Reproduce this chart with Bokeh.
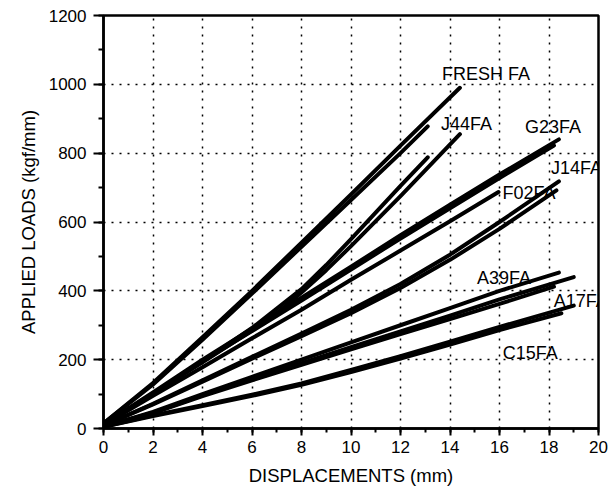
from bokeh.plotting import figure
from bokeh.models import Range1d, SingleIntervalTicker, Label
from bokeh.embed import file_html
from bokeh.resources import INLINE

# ---- data ----
fresh_x = [0, 2, 4, 6, 8, 10, 12, 14.4]
fresh_y = [15, 132, 265, 400, 540, 680, 822, 990]
fresh2_x = [0, 2, 4, 6, 8, 10, 12, 13.1]
fresh2_y = [15, 128, 258, 392, 528, 664, 800, 878]

j44a_x = [0, 1, 2, 4, 6, 7, 8, 9, 10, 12, 14.4]
j44a_y = [10, 55, 102, 192, 285, 335, 395, 460, 530, 675, 855]
j44b_x = [0, 2, 4, 6, 8, 9, 10, 12, 13.1]
j44b_y = [10, 102, 195, 292, 405, 475, 550, 705, 788]

g23a_x = [0, 1, 2, 4, 6, 8, 10, 12, 14, 16, 18.4]
g23a_y = [10, 58, 105, 200, 290, 380, 470, 562, 650, 738, 840]
g23b_x = [0, 2, 4, 6, 8, 10, 12, 14, 16, 18.2]
g23b_y = [10, 102, 195, 283, 372, 462, 552, 640, 728, 822]

f02_x = [0, 2, 4, 6, 8, 10, 12, 14, 15.96]
f02_y = [10, 95, 178, 262, 345, 432, 517, 602, 687]

j14a_x = [0, 2, 4, 6, 8, 10, 12, 14, 16, 18.4]
j14a_y = [8, 72, 140, 208, 276, 345, 420, 505, 600, 718]
j14b_x = [0, 2, 4, 6, 8, 10, 12, 14, 16, 18.3]
j14b_y = [8, 70, 136, 203, 268, 335, 408, 490, 580, 692]

a39_x = [0, 2, 4, 6, 8, 10, 12, 14, 16, 18.4]
a39_y = [5, 48, 100, 150, 200, 250, 300, 350, 400, 453]
a17a_x = [0, 2, 4, 6, 8, 10, 12, 14, 16, 19]
a17a_y = [5, 46, 96, 144, 190, 236, 282, 328, 375, 440]
a17b_x = [0, 2, 4, 6, 8, 10, 12, 14, 16, 18.2]
a17b_y = [5, 45, 94, 140, 185, 230, 274, 318, 362, 412]

c15a_x = [0, 2, 4, 6, 8, 10, 12, 14, 16, 19]
c15a_y = [5, 38, 68, 98, 131, 170, 210, 252, 295, 357]
c15b_x = [0, 2, 4, 6, 8, 10, 12, 14, 16, 18.5]
c15b_y = [5, 36, 65, 95, 127, 164, 203, 244, 286, 335]

series = [
    (fresh_x, fresh_y), (fresh2_x, fresh2_y),
    (j44a_x, j44a_y), (j44b_x, j44b_y),
    (g23a_x, g23a_y), (g23b_x, g23b_y),
    (f02_x, f02_y),
    (j14a_x, j14a_y), (j14b_x, j14b_y),
    (a39_x, a39_y), (a17a_x, a17a_y), (a17b_x, a17b_y),
    (c15a_x, c15a_y), (c15b_x, c15b_y),
]

label_texts = ["FRESH FA", "J44FA", "G23FA", "J14FA", "F02FA", "A39FA", "A17FA", "C15FA"]
label_series = [(fresh_x, fresh_y), (j44a_x, j44a_y), (g23a_x, g23a_y), (j14a_x, j14a_y),
                (f02_x, f02_y), (a39_x, a39_y), (a17a_x, a17a_y), (c15a_x, c15a_y)]
# screen offsets (px) of each label from its curve's end point
label_offsets = [(-18, 14), (-19, 10), (-34, 12), (-8, 13), (4, -1), (-82, -5), (-20, -24), (-71, -47)]

FONT = "Liberation Sans"

p = figure(width=615, height=497, output_backend="svg", toolbar_location=None,
           x_range=Range1d(0, 20), y_range=Range1d(0, 1200))
p.min_border_left = 103
p.min_border_right = 17
p.min_border_top = 15
p.min_border_bottom = 69
p.background_fill_color = "white"
p.border_fill_color = "white"
p.outline_line_color = "black"
p.outline_line_width = 2.5

for xs, ys in series:
    p.line(xs, ys, line_color="black", line_width=4, line_cap="round", line_join="round")

for txt, (xs, ys), (dx, dy) in zip(label_texts, label_series, label_offsets):
    p.add_layout(Label(x=xs[-1], y=ys[-1], x_offset=dx, y_offset=dy, text=txt,
                       text_font=FONT, text_font_size="18px", text_color="black",
                       text_align="left", text_baseline="alphabetic"))

p.xaxis.ticker = SingleIntervalTicker(interval=2, num_minor_ticks=2)
p.yaxis.ticker = SingleIntervalTicker(interval=200, num_minor_ticks=2)

for ax in (p.xaxis[0], p.yaxis[0]):
    ax.axis_line_width = 2.5
    ax.axis_line_color = "black"
    ax.major_tick_line_color = "black"
    ax.minor_tick_line_color = "black"
    ax.major_tick_line_width = 2
    ax.minor_tick_line_width = 2
    ax.major_tick_in = 0
    ax.minor_tick_in = 0
    ax.major_label_text_font = FONT
    ax.major_label_text_font_size = "17px"
    ax.major_label_text_color = "black"
    ax.axis_label_text_font = FONT
    ax.axis_label_text_font_size = "18.5px"
    ax.axis_label_text_font_style = "normal"
    ax.axis_label_text_color = "black"

p.xaxis.axis_label = "DISPLACEMENTS (mm)"
p.yaxis.axis_label = "APPLIED LOADS (kgf/mm)"
p.xaxis.major_tick_out = 7
p.xaxis.minor_tick_out = 4
p.xaxis.major_label_standoff = 5
p.xaxis.axis_label_standoff = 9
p.yaxis.major_tick_out = 10
p.yaxis.minor_tick_out = 5
p.yaxis.major_label_standoff = 7
p.yaxis.axis_label_standoff = 7

for g in (p.xgrid[0], p.ygrid[0]):
    g.grid_line_color = "black"
    g.grid_line_dash = "2 6"
    g.grid_line_width = 1.5

open("out.html", "w").write(file_html(p, INLINE))
